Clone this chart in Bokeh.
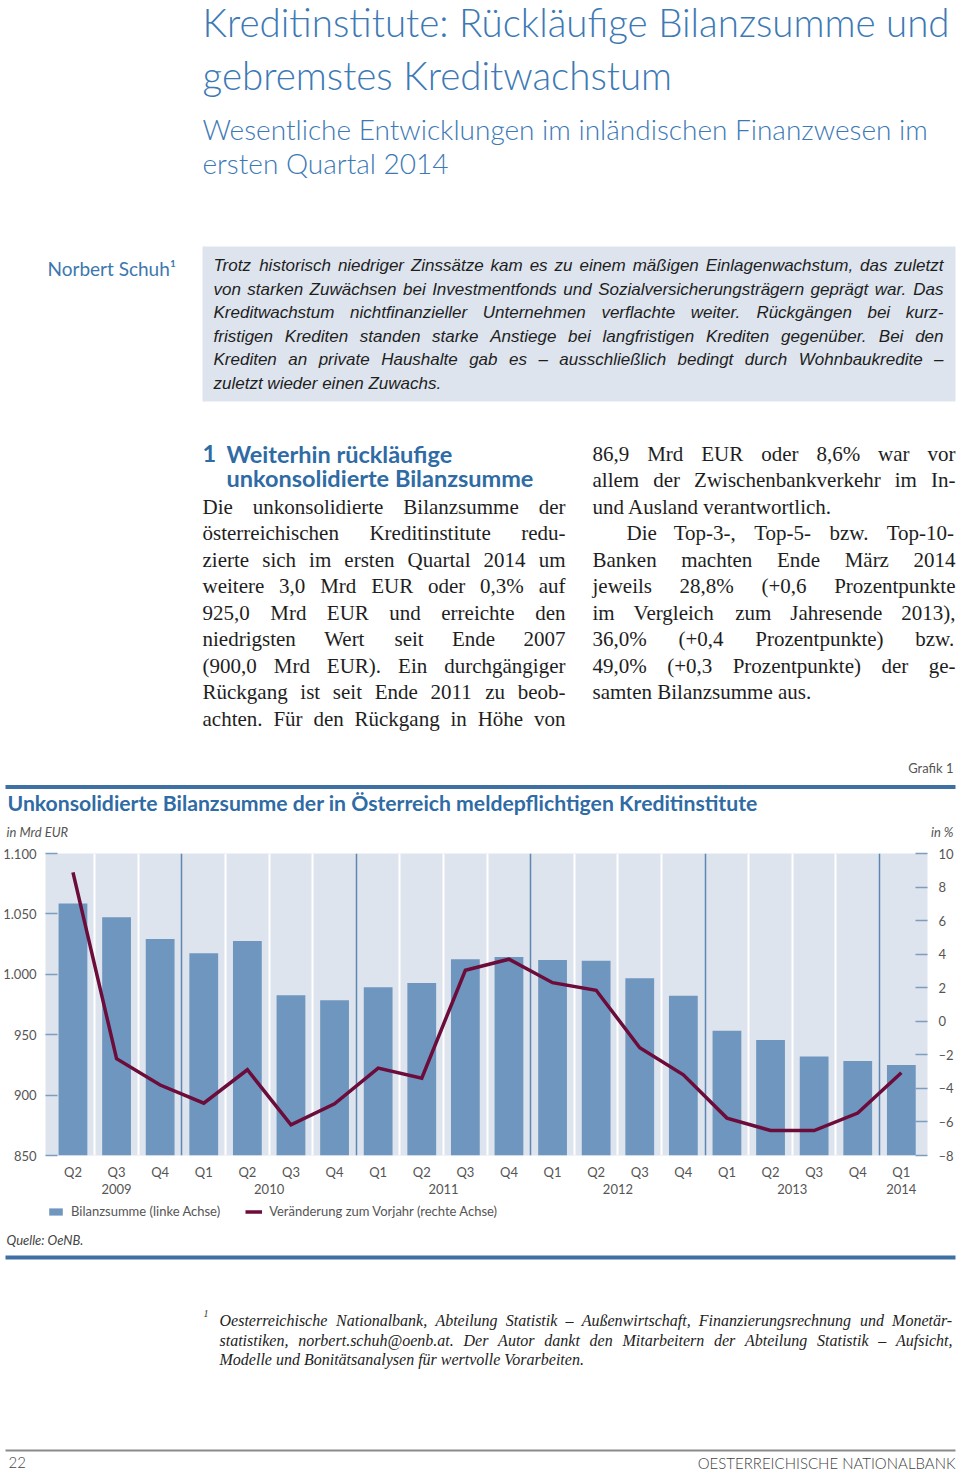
from bokeh.plotting import figure
from bokeh.models import Range1d, LinearAxis, FixedTicker, Grid, Legend, LegendItem, ColumnDataSource
from bokeh.layouts import column
from bokeh.core.properties import value
from bokeh.embed import file_html
from bokeh.resources import INLINE

# ---------------- data ----------------
quarters = ["Q2", "Q3", "Q4", "Q1", "Q2", "Q3", "Q4", "Q1", "Q2", "Q3", "Q4",
            "Q1", "Q2", "Q3", "Q4", "Q1", "Q2", "Q3", "Q4", "Q1"]
year_of = [2009, 2009, 2009, 2010, 2010, 2010, 2010, 2011, 2011, 2011, 2011,
           2012, 2012, 2012, 2012, 2013, 2013, 2013, 2013, 2014]
bilanzsumme = [1058.6, 1047.2, 1029.3, 1017.4, 1027.6, 982.6, 978.5, 989.2, 992.8, 1012.4,
               1014.4, 1011.9, 1011.3, 996.7, 982.3, 953.3, 945.6, 932.0, 928.2, 925.0]
veraenderung = [8.87, -2.23, -3.8, -4.88, -2.89, -6.17, -4.92, -2.79, -3.39, 3.04,
                3.70, 2.30, 1.85, -1.58, -3.19, -5.77, -6.51, -6.51, -5.47, -3.07]
left_ticks = [850, 900, 950, 1000, 1050, 1100]
left_labels = ["850", "900", "950", "1.000", "1.050", "1.100"]
right_ticks = [-8, -6, -4, -2, 0, 2, 4, 6, 8, 10]
right_labels = ["–8", "–6", "–4", "–2", "0", "2", "4", "6", "8", "10"]
legend_labels = ["Bilanzsumme (linke Achse)", "Veränderung zum Vorjahr (rechte Achse)"]

W = 958
BLUE_T = "#3d79b5"
BLUE_H = "#2f6ba4"
RULE = "#3e70a3"
GREY = "#555555"
BAR_COL = "#6f96be"
LINE_COL = "#6b0c3b"

# ---------------- font metrics (for justified text) ----------------
def build(lower, upper, digit, extra):
    t = {}
    for c, w in zip("abcdefghijklmnopqrstuvwxyz", lower):
        t[c] = w
    for c, w in zip("ABCDEFGHIJKLMNOPQRSTUVWXYZ", upper):
        t[c] = w
    for d in "0123456789":
        t[d] = digit
    t.update(extra)
    return t

TIMES = build([444, 500, 444, 500, 444, 333, 500, 500, 278, 278, 500, 278, 778, 500, 500, 500, 500, 333, 389, 278, 500, 500, 722, 500, 500, 444],
              [722, 667, 667, 722, 611, 556, 722, 722, 333, 389, 722, 611, 889, 722, 722, 556, 722, 667, 556, 611, 722, 722, 944, 722, 722, 611],
              500, {" ": 250, "%": 833, "(": 333, ")": 333, "+": 564, ",": 250, "-": 333, ".": 250, ":": 278,
                    "ä": 444, "ö": 500, "ü": 500, "Ä": 722, "Ö": 722, "Ü": 722, "ß": 500, "–": 500})
TIMES_I = build([500, 500, 444, 500, 444, 278, 500, 500, 278, 278, 444, 278, 722, 500, 500, 500, 500, 389, 389, 278, 500, 444, 667, 444, 444, 389],
                [611, 611, 667, 722, 611, 611, 722, 722, 333, 444, 667, 556, 833, 667, 722, 611, 722, 611, 500, 556, 722, 611, 833, 611, 556, 556],
                500, {" ": 250, ",": 250, ".": 250, "-": 333, "@": 920, "–": 500, "ä": 500, "ö": 500, "ü": 500,
                      "ß": 500, "(": 333, ")": 333})
ARIAL = build([556, 556, 500, 556, 556, 278, 556, 556, 222, 222, 500, 222, 833, 556, 556, 556, 556, 333, 500, 278, 556, 500, 722, 500, 500, 500],
              [667, 667, 722, 722, 667, 611, 778, 722, 278, 500, 667, 556, 833, 722, 778, 667, 778, 722, 667, 611, 722, 667, 944, 667, 667, 611],
              556, {" ": 278, ",": 278, ".": 278, "-": 333, "–": 556, "ä": 556, "ö": 556, "ü": 556, "ß": 611})


def em(s, table):
    return sum(table.get(c, 500) for c in s) / 1000.0


def page_fig(y0, y1):
    f = figure(width=W, height=y1 - y0, x_range=Range1d(0, W), y_range=Range1d(y1, y0),
               min_border=0, toolbar_location=None, output_backend="svg",
               x_axis_location=None, y_axis_location=None, frame_align=False)
    f.grid.visible = False
    f.outline_line_color = None
    f.background_fill_color = "white"
    f.border_fill_color = "white"
    return f


def txt(f, x, y, s, size, font="Lato", color="#222222", style="normal", align="left"):
    f.text(x=[x], y=[y], text=[s], text_font=value(font), text_font_size=value(f"{size}px"),
           text_color=color, text_font_style=style, text_align=align, text_baseline="middle")


def paragraph(f, lines, x0s, x1, ys, just, table, font, size, style="normal", color="#1e1e1e"):
    xs, yy, ts = [], [], []
    for line, x0, y, j in zip(lines, x0s, ys, just):
        if j:
            words = line.split(" ")
            ws = [em(w, table) * size for w in words]
            gap = (x1 - x0 - sum(ws)) / (len(words) - 1)
            x = x0
            for w, wd in zip(words, ws):
                xs.append(x); yy.append(y); ts.append(w)
                x += wd + gap
        else:
            xs.append(x0); yy.append(y); ts.append(line)
    f.text(x=xs, y=yy, text=ts, text_font=value(font), text_font_size=value(f"{size:.2f}px"),
           text_color=color, text_font_style=style, text_align="left", text_baseline="middle")


# ---------------- header ----------------
h = page_fig(0, 840)
txt(h, 202, 21, "Kreditinstitute: Rückläufige Bilanzsumme und", 38.5, "Lato Light", BLUE_T)
txt(h, 202, 74, "gebremstes Kreditwachstum", 38.5, "Lato Light", BLUE_T)
txt(h, 202, 128, "Wesentliche Entwicklungen im inländischen Finanzwesen im", 28, "Lato Light", BLUE_T)
txt(h, 202, 162, "ersten Quartal 2014", 28, "Lato Light", BLUE_T)
txt(h, 47, 268, "Norbert Schuh¹", 19, "Lato", "#3c77ae")

h.quad(left=202, right=955, top=246, bottom=401, fill_color="#dde4ed", line_color=None)
abstract = [
    "Trotz historisch niedriger Zinssätze kam es zu einem mäßigen Einlagenwachstum, das zuletzt",
    "von starken Zuwächsen bei Investmentfonds und Sozialversicherungsträgern geprägt war. Das",
    "Kreditwachstum nichtfinanzieller Unternehmen verflachte weiter. Rückgängen bei kurz-",
    "fristigen Krediten standen starke Anstiege bei langfristigen Krediten gegenüber. Bei den",
    "Krediten an private Haushalte gab es – ausschließlich bedingt durch Wohnbaukredite –",
    "zuletzt wieder einen Zuwachs.",
]
a_just = [True, True, True, True, True, False]
a_size = min(17.0, 729.0 / max(em(l, ARIAL) + 0.4 for l in abstract[:5]))
paragraph(h, abstract, [213] * 6, 943, [265, 288.5, 312, 335.5, 359, 382.5], a_just,
          ARIAL, "Liberation Sans", a_size, "italic", "#1e1e1e")

txt(h, 202, 453, "1", 23.5, "Lato", BLUE_H, "bold")
txt(h, 226, 453, "Weiterhin rückläufige", 23.5, "Lato", BLUE_H, "bold")
txt(h, 226, 477, "unkonsolidierte Bilanzsumme", 23.5, "Lato", BLUE_H, "bold")

left_col = [
    "Die unkonsolidierte Bilanzsumme der",
    "österreichischen Kreditinstitute redu-",
    "zierte sich im ersten Quartal 2014 um",
    "weitere 3,0 Mrd EUR oder 0,3% auf",
    "925,0 Mrd EUR und erreichte den",
    "niedrigsten Wert seit Ende 2007",
    "(900,0 Mrd EUR). Ein durchgängiger",
    "Rückgang ist seit Ende 2011 zu beob-",
    "achten. Für den Rückgang in Höhe von",
]
paragraph(h, left_col, [202] * 9, 565, [506, 532.5, 559, 585.5, 612, 638.5, 665, 691.5, 718],
          [True] * 9, TIMES, "Liberation Serif", 21)
right_col = [
    "86,9 Mrd EUR oder 8,6% war vor",
    "allem der Zwischenbankverkehr im In-",
    "und Ausland verantwortlich.",
    "Die Top-3-, Top-5- bzw. Top-10-",
    "Banken machten Ende März 2014",
    "jeweils 28,8% (+0,6 Prozentpunkte",
    "im Vergleich zum Jahresende 2013),",
    "36,0% (+0,4 Prozentpunkte) bzw.",
    "49,0% (+0,3 Prozentpunkte) der ge-",
    "samten Bilanzsumme aus.",
]
paragraph(h, right_col, [592, 592, 592, 626, 592, 592, 592, 592, 592, 592], 955,
          [453, 479.5, 506, 532.5, 559, 585.5, 612, 638.5, 665, 691.5],
          [True, True, False, True, True, True, True, True, True, False], TIMES, "Liberation Serif", 21)

txt(h, 953, 767, "Grafik 1", 13, "Lato", GREY, align="right")
h.quad(left=5, right=955, top=784.5, bottom=788.5, fill_color=RULE, line_color=None)
txt(h, 7, 802, "Unkonsolidierte Bilanzsumme der in Österreich meldepflichtigen Kreditinstitute", 21.2,
    "Lato", BLUE_H, "bold")
txt(h, 6, 831, "in Mrd EUR", 13, "Lato", GREY, "italic")
txt(h, 953, 831, "in %", 13, "Lato", GREY, "italic", align="right")

# ---------------- chart ----------------
idx = list(range(len(quarters)))
src = ColumnDataSource(dict(x=idx, bil=bilanzsumme, ver=veraenderung))

CH_TOP, CH_BOT = 840, 1200
p = figure(width=W, height=CH_BOT - CH_TOP, x_range=Range1d(-0.63, 19.6),
           y_range=Range1d(left_ticks[0], left_ticks[-1]),
           min_border_left=45, min_border_right=W - 45 - 882, min_border_top=13,
           min_border_bottom=CH_BOT - CH_TOP - 13 - 302,
           toolbar_location=None, output_backend="svg", title=None, frame_align=False)
p.extra_y_ranges = {"pct": Range1d(right_ticks[0], right_ticks[-1])}
p.background_fill_color = "#dde4ee"
p.border_fill_color = "white"
p.outline_line_color = None

year_bounds = [i - 0.5 for i in idx[1:] if year_of[i] != year_of[i - 1]]
cat_bounds = [i + 0.5 for i in idx[:-1] if (i + 0.5) not in year_bounds]
p.ygrid.visible = False
p.xgrid.ticker = FixedTicker(ticks=cat_bounds)
p.xgrid.grid_line_color = "white"
p.xgrid.grid_line_width = 2
p.add_layout(Grid(dimension=0, ticker=FixedTicker(ticks=year_bounds),
                  grid_line_color="#5d86b0", grid_line_width=1.5))

bars = p.vbar(x="x", top="bil", bottom=left_ticks[0], width=0.66, source=src,
              fill_color=BAR_COL, line_color=None)
line = p.line(x="x", y="ver", source=src, y_range_name="pct", line_color=LINE_COL,
              line_width=3.5, line_join="miter")

TICK_COL = "#7d9cbe"
ya = p.yaxis[0]
ya.ticker = FixedTicker(ticks=left_ticks)
ya.major_label_overrides = {t: l for t, l in zip(left_ticks, left_labels)}
ya.major_tick_in = 12
ya.major_tick_out = 0
ya.minor_tick_line_color = None
ya.axis_line_color = None
ya.major_tick_line_color = TICK_COL
ya.major_tick_line_width = 1.5
ya.major_label_standoff = 9
ya.major_label_text_font = "Lato"
ya.major_label_text_font_size = "13px"
ya.major_label_text_color = GREY

yr = LinearAxis(y_range_name="pct", ticker=FixedTicker(ticks=right_ticks),
                major_label_overrides={t: l for t, l in zip(right_ticks, right_labels)})
yr.major_tick_in = 12
yr.major_tick_out = 0
yr.minor_tick_line_color = None
yr.axis_line_color = None
yr.major_tick_line_color = TICK_COL
yr.major_tick_line_width = 1.5
yr.major_label_standoff = 11
yr.major_label_text_font = "Lato"
yr.major_label_text_font_size = "13px"
yr.major_label_text_color = GREY
p.add_layout(yr, "right")

xa = p.xaxis[0]
xa.ticker = FixedTicker(ticks=idx)
xa.major_label_overrides = {i: q for i, q in zip(idx, quarters)}
xa.major_tick_line_color = None
xa.minor_tick_line_color = None
xa.axis_line_color = None
xa.major_label_standoff = 2
xa.major_label_text_font = "Lato"
xa.major_label_text_font_size = "13px"
xa.major_label_text_color = GREY

years = sorted(set(year_of))
year_pos = [sum(i for i in idx if year_of[i] == y) / year_of.count(y) for y in years]
xy = LinearAxis(ticker=FixedTicker(ticks=year_pos),
                major_label_overrides={pos: str(y) for pos, y in zip(year_pos, years)})
xy.major_tick_line_color = None
xy.minor_tick_line_color = None
xy.axis_line_color = None
xy.major_label_standoff = -5
xy.major_label_text_font = "Lato"
xy.major_label_text_font_size = "13px"
xy.major_label_text_color = GREY
p.add_layout(xy, "below")

# ---------------- footer (with legend) ----------------
FT_TOP, FT_BOT = CH_BOT, 1471
ft = page_fig(FT_TOP, FT_BOT)
# legend key renderers: a single NaN row each, so nothing is drawn in the page,
# they only carry the series styles into the legend
nan = float("nan")
key_bar = ft.vbar(x=[nan], top=[nan], bottom=[nan], width=1, fill_color=BAR_COL, line_color=None)
key_line = ft.line(x=[nan, nan], y=[nan, nan], line_color=LINE_COL, line_width=3.5)
legend = Legend(items=[LegendItem(label=legend_labels[0], renderers=[key_bar]),
                       LegendItem(label=legend_labels[1], renderers=[key_line])],
                orientation="horizontal", location=(47, FT_BOT - 1219), padding=0, margin=0, spacing=25,
                label_standoff=7, glyph_width=17, glyph_height=9, label_height=14,
                label_text_font="Lato", label_text_font_size="13px", label_text_color=GREY,
                border_line_color=None, background_fill_alpha=0)
ft.add_layout(legend)

txt(ft, 6, 1239, "Quelle: OeNB.", 13, "Lato", "#444444", "italic")
ft.quad(left=5, right=955, top=1255, bottom=1259, fill_color=RULE, line_color=None)
txt(ft, 203, 1313, "1", 10, "Liberation Serif", "#333333", "italic")
foot = [
    "Oesterreichische Nationalbank, Abteilung Statistik – Außenwirtschaft, Finanzierungsrechnung und Monetär-",
    "statistiken, norbert.schuh@oenb.at. Der Autor dankt den Mitarbeitern der Abteilung Statistik – Aufsicht,",
    "Modelle und Bonitätsanalysen für wertvolle Vorarbeiten.",
]
f_size = min(16.0, 732.0 / max(em(l, TIMES_I) + 0.4 for l in foot[:2]))
paragraph(ft, foot, [219] * 3, 952, [1320, 1339.5, 1359], [True, True, False], TIMES_I,
          "Liberation Serif", f_size, "italic", "#222222")
ft.quad(left=5, right=955, top=1449, bottom=1451, fill_color="#8a8a8a", line_color=None)
txt(ft, 8, 1462, "22", 15, "Lato Light", "#444444")
txt(ft, 955, 1462, "OESTERREICHISCHE NATIONALBANK", 15, "Lato Light", "#444444", align="right")

layout = column(h, p, ft, spacing=0)
open("out.html", "w").write(file_html(layout, INLINE))
